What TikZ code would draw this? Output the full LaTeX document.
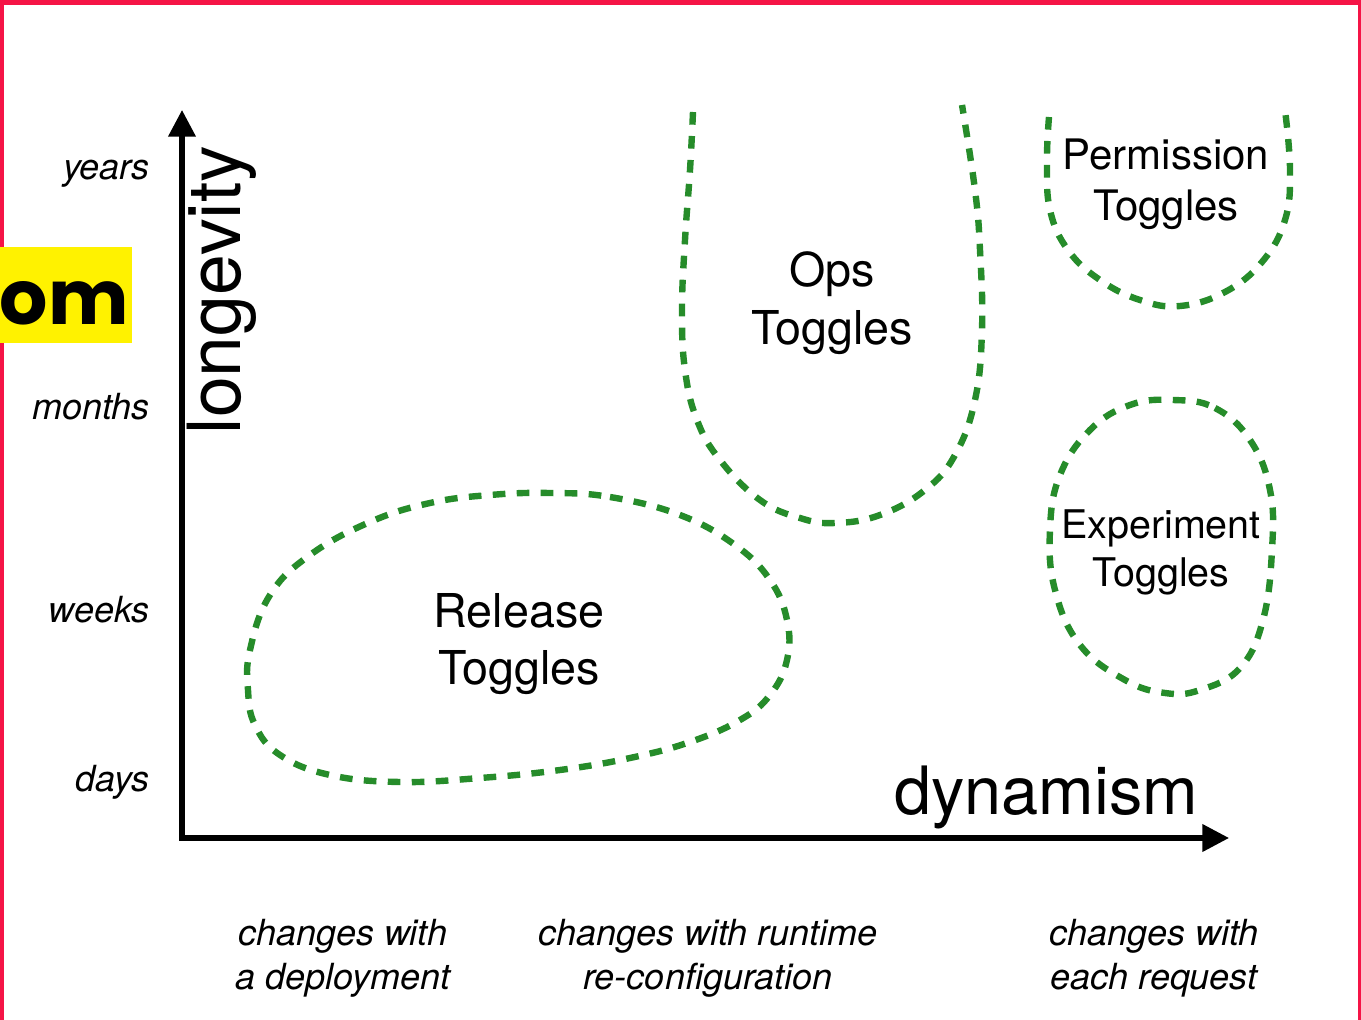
\documentclass[tikz,border=0pt]{standalone}
\usepackage{fontspec}
\setmainfont{TeX Gyre Heros}
\newfontfamily\bannerfont{Poppins}
\usetikzlibrary{arrows.meta}
\definecolor{framered}{RGB}{245,20,70}
\definecolor{togglegreen}{RGB}{38,140,42}

\begin{document}
\begin{tikzpicture}[x=0.75pt, y=-0.75pt,
 axis/.style={line width=3.8pt, {Triangle[length=20pt,width=20pt]}-{Triangle[length=20pt,width=20pt]}},
 region/.style={togglegreen, line width=4.8pt, dash pattern=on 9.5pt off 8.5pt},
 tick/.style={anchor=base east, inner sep=0pt, font=\fontsize{27}{27}\selectfont\itshape},
 scale label/.style={align=center, inner sep=0pt, font=\fontsize{27}{33}\selectfont\itshape},
 toggle/.style={align=center, inner sep=0pt}]
 \useasboundingbox (0,0) rectangle (1361,1020);
%frame
 \fill[framered] (0,0) rectangle (1361,5);
 \fill[framered] (0,0) rectangle (4,1020);
 \fill[framered] (1358,0) rectangle (1361,1020);
 \fill[yellow] (0,247) rectangle (132,343);
 \node[anchor=base east, inner sep=0pt, font=\bannerfont\bfseries\fontsize{57}{57}\selectfont] (banner) at (129,325) {om};
%axes
 \draw[axis] (182,110) coordinate (Ytip) -- (182,838) coordinate (O) -- (1229,838) coordinate (Xtip);
 \node[rotate=90, inner sep=0pt, font=\fontsize{55}{55}\selectfont] (longevity) at (222,290) {longevity};
 \node[inner sep=0pt, font=\fontsize{50}{50}\selectfont] (dynamism) at (1046,797) {dynamism};
%longevity scale
 \node[tick] (years) at (150,180) {years};
 \node[tick] (months) at (150,419) {months};
 \node[tick] (weeks) at (150,622) {weeks};
 \node[tick] (days) at (150,791) {days};
%dynamism scale
 \node[scale label] (deploy) at (343,958) {changes with\\a deployment};
 \node[scale label] (runtime) at (708,958) {changes with runtime\\re-configuration};
 \node[scale label] (request) at (1154,958) {changes with\\each request};
%toggle regions
 \draw[region] plot[smooth cycle, tension=0.7] coordinates {(550,493) (610,497) (680,515) (735,545) (770,580) (787,620) (787,660) (770,695) (740,720) (690,742) (630,758) (560,770) (480,778) (400,782) (330,775) (280,755) (255,725) (248,690) (250,650) (270,595) (310,555) (370,522) (430,503) (490,495)};
 \draw[region] plot[smooth, tension=0.7] coordinates {(693,112) (690,170) (685,240) (682,310) (685,370) (697,420) (720,460) (760,500) (800,518) (835,523) (880,515) (925,490) (955,455) (975,400) (982,330) (980,250) (975,190) (962,105)};
 \draw[region] plot[smooth, tension=0.7] coordinates {(1049,117) (1047,160) (1050,210) (1068,250) (1100,280) (1140,300) (1180,306) (1225,292) (1262,262) (1285,220) (1290,170) (1285,110)};
 \draw[region] plot[smooth cycle, tension=0.7] coordinates {(1173,400) (1215,408) (1250,440) (1270,490) (1272,550) (1263,620) (1240,668) (1200,690) (1165,693) (1125,680) (1080,645) (1055,590) (1050,530) (1060,475) (1090,430) (1130,405)};
 \node[toggle, font=\fontsize{35}{43}\selectfont] (release) at (519,644) {Release\\Toggles};
 \node[toggle, font=\fontsize{35}{43}\selectfont] (ops) at (832,303) {Ops\\Toggles};
 \node[toggle, font=\fontsize{31.5}{38}\selectfont] (permission) at (1166,184) {Permission\\Toggles};
 \node[toggle, font=\fontsize{29.6}{36}\selectfont] (experiment) at (1161,552) {Experiment\\Toggles};
\end{tikzpicture}
\end{document}
